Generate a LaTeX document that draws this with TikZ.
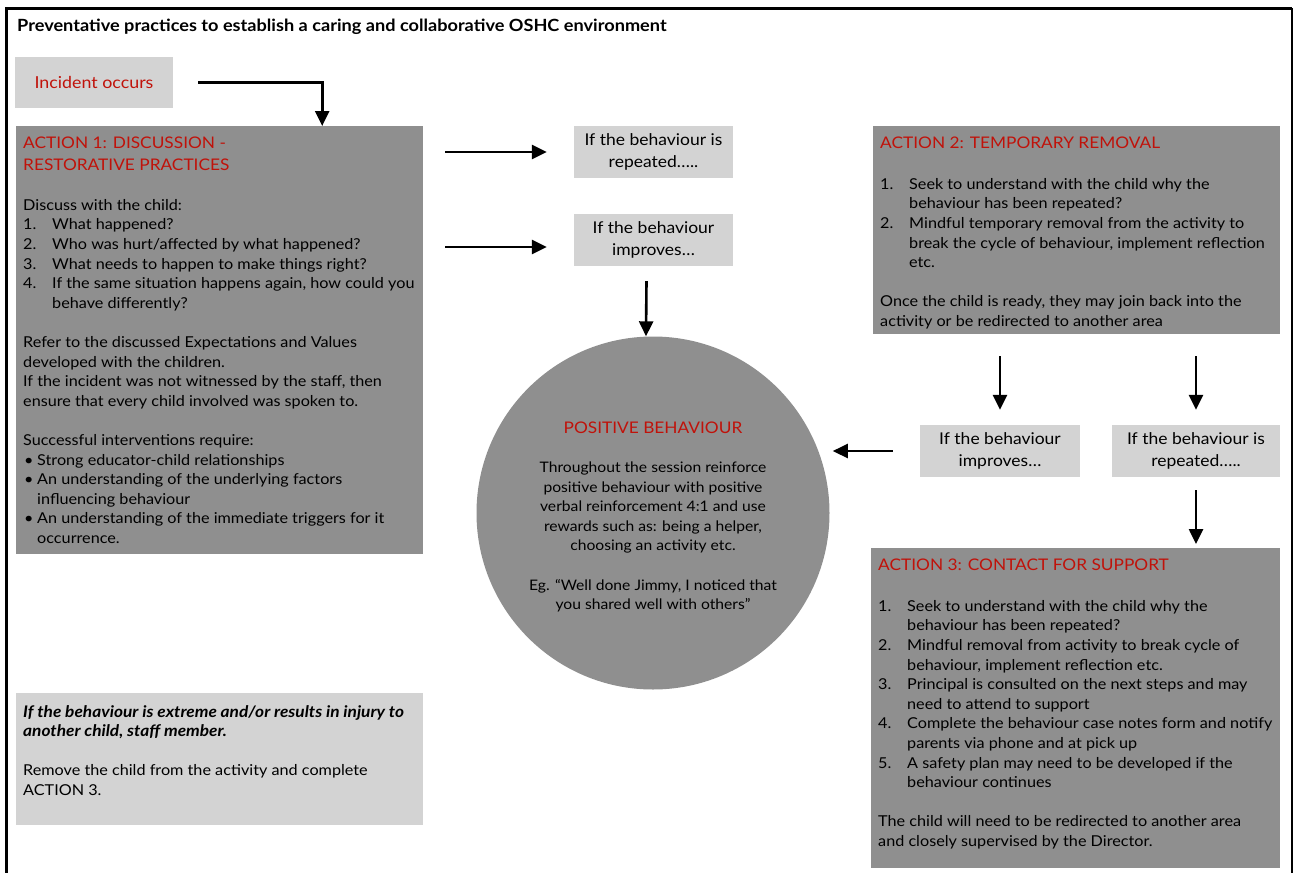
\documentclass[tikz,border=0pt]{standalone}
\usepackage{fontspec}
\setmainfont{Lato}[FakeStretch=1.08]
\usetikzlibrary{arrows.meta,positioning}
\definecolor{boxdark}{RGB}{143,143,143}
\definecolor{boxlight}{RGB}{211,211,211}
\definecolor{headred}{RGB}{192,18,10}
\tikzset{
  darkbox/.style={fill=boxdark, draw=none, inner sep=0pt, anchor=north west},
  lightbox/.style={fill=boxlight, draw=none, inner sep=0pt, align=center,
    font=\fontsize{16.2}{22}\selectfont},
  headtext/.style={text=headred, inner sep=0pt, anchor=north west, align=left,
    font=\fontsize{16}{22}\selectfont},
  bodytext/.style={inner sep=0pt, anchor=north west, align=left,
    font=\fontsize{15}{19.6}\selectfont},
  arr/.style={line width=2.6pt, -{Triangle[width=14pt,length=15pt]}},
}
\newcommand{\numit}[1]{\makebox[29pt][l]{#1}}
\newcommand{\contline}{\hspace*{29pt}}
\newcommand{\bulit}{\makebox[14pt][l]{\hspace{1pt}\textbullet}}
\newcommand{\bulcont}{\hspace*{14pt}}

\begin{document}
\begin{tikzpicture}[x=1pt,y=-1pt]
  \useasboundingbox (0,0) rectangle (1294,873);
  % frame
  \draw[line width=3pt] (6,873) -- (6,8) -- (1292,8);
  \draw[line width=1.2pt] (1292,8) -- (1292,873);
  \node[anchor=west, inner sep=0pt, font=\fontsize{16.8}{18}\selectfont\bfseries] (title) at (17,27)
    {Preventative practices to establish a caring and collaborative OSHC environment};

  % incident
  \node[lightbox, minimum width=158pt, minimum height=51pt, text=headred,
    font=\fontsize{16.5}{20}\selectfont] (inc) at (94,82.5) {Incident occurs};

  % action 1
  \node[darkbox, minimum width=407pt, minimum height=428pt] (act1) at (16,126) {};
  \node[headtext] (act1head) at (23,137) {ACTION 1: DISCUSSION -\\RESTORATIVE PRACTICES};
  \node[bodytext] (act1body) at (23,199) {Discuss with the child:\\
    \numit{1.}What happened?\\
    \numit{2.}Who was hurt/affected by what happened?\\
    \numit{3.}What needs to happen to make things right?\\
    \numit{4.}If the same situation happens again, how could you\\
    \contline behave differently?\\[19.6pt]
    Refer to the discussed Expectations and Values\\
    developed with the children.\\
    If the incident was not witnessed by the staff, then\\
    ensure that every child involved was spoken to.\\[19.6pt]
    Successful interventions require:\\
    \bulit Strong educator-child relationships\\
    \bulit An understanding of the underlying factors\\
    \bulcont influencing behaviour\\
    \bulit An understanding of the immediate triggers for it\\
    \bulcont occurrence.};

  % middle column
  \node[lightbox, minimum width=159pt, minimum height=52pt] (rep1) at (653.5,152)
    {If the behaviour is\\repeated…..};
  \node[lightbox, minimum width=159pt, minimum height=52pt] (imp1) at (653.5,240)
    {If the behaviour\\improves…};
  \node[circle, fill=boxdark, inner sep=0pt, minimum size=353pt] (posb) at (653,513) {};
  \node[text=headred, inner sep=0pt, font=\fontsize{16}{20}\selectfont] (posbhead) at (653,428)
    {POSITIVE BEHAVIOUR};
  \node[inner sep=0pt, align=center, font=\fontsize{14.5}{19.6}\selectfont] (posbbody) at (653,537)
    {Throughout the session reinforce\\
    positive behaviour with positive\\
    verbal reinforcement 4:1 and use\\
    rewards such as: being a helper,\\
    choosing an activity etc.\\[19.6pt]
    Eg. “Well done Jimmy, I noticed that\\
    you shared well with others”};

  % action 2
  \node[darkbox, minimum width=407pt, minimum height=208pt] (act2) at (873,126) {};
  \node[headtext] (act2head) at (880,137) {ACTION 2: TEMPORARY REMOVAL};
  \node[bodytext] (act2body) at (880,178) {\numit{1.}Seek to understand with the child why the\\
    \contline behaviour has been repeated?\\
    \numit{2.}Mindful temporary removal from the activity to\\
    \contline break the cycle of behaviour, implement reflection\\
    \contline etc.\\[19.6pt]
    Once the child is ready, they may join back into the\\
    activity or be redirected to another area};
  \node[lightbox, minimum width=160pt, minimum height=52pt] (imp2) at (1000,451)
    {If the behaviour\\improves…};
  \node[lightbox, minimum width=168pt, minimum height=52pt] (rep2) at (1196,451)
    {If the behaviour is\\repeated…..};

  % action 3
  \node[darkbox, minimum width=409pt, minimum height=320pt] (act3) at (871,548) {};
  \node[headtext] (act3head) at (878,559) {ACTION 3: CONTACT FOR SUPPORT};
  \node[bodytext] (act3body) at (878,600) {\numit{1.}Seek to understand with the child why the\\
    \contline behaviour has been repeated?\\
    \numit{2.}Mindful removal from activity to break cycle of\\
    \contline behaviour, implement reflection etc.\\
    \numit{3.}Principal is consulted on the next steps and may\\
    \contline need to attend to support\\
    \numit{4.}Complete the behaviour case notes form and notify\\
    \contline parents via phone and at pick up\\
    \numit{5.}A safety plan may need to be developed if the\\
    \contline behaviour continues\\[19.6pt]
    The child will need to be redirected to another area\\
    and closely supervised by the Director.};

  % extreme behaviour
  \node[lightbox, anchor=north west, minimum width=407pt, minimum height=132pt] (ext) at (16,693) {};
  \node[bodytext] (exttext) at (23,705)
    {{\fontsize{16}{19.6}\selectfont\bfseries\itshape If the behaviour is extreme and/or results in injury to}\\
    {\fontsize{16}{19.6}\selectfont\bfseries\itshape another child, staff member.}\\[19.6pt]
    Remove the child from the activity and complete\\
    ACTION 3.};

  % arrows
  \draw[arr] ([xshift=25pt]inc.east) -| ([xshift=102.5pt]act1.north);
  \draw[arr] ([xshift=22pt]act1.east |- rep1) -- ([xshift=-27pt]rep1.west);
  \draw[arr] ([xshift=22pt,yshift=-7pt]act1.east |- imp1) -- ([xshift=-27pt,yshift=-7pt]imp1.west);
  \draw[arr] ([xshift=-7pt,yshift=-15pt]imp1.south) -- ([xshift=-7pt]posb.north);
  \draw[arr] ([xshift=-27pt]imp2.west) -- ([xshift=-87pt]imp2.west);
  \draw[arr] (act2.south -| imp2) ++(0,22) -- ([yshift=15pt]imp2.north);
  \draw[arr] (act2.south -| rep2) ++(0,22) -- ([yshift=15pt]rep2.north);
  \draw[arr] ([yshift=-13pt]rep2.south) -- ([yshift=4pt]act3.north -| rep2);
\end{tikzpicture}
\end{document}
